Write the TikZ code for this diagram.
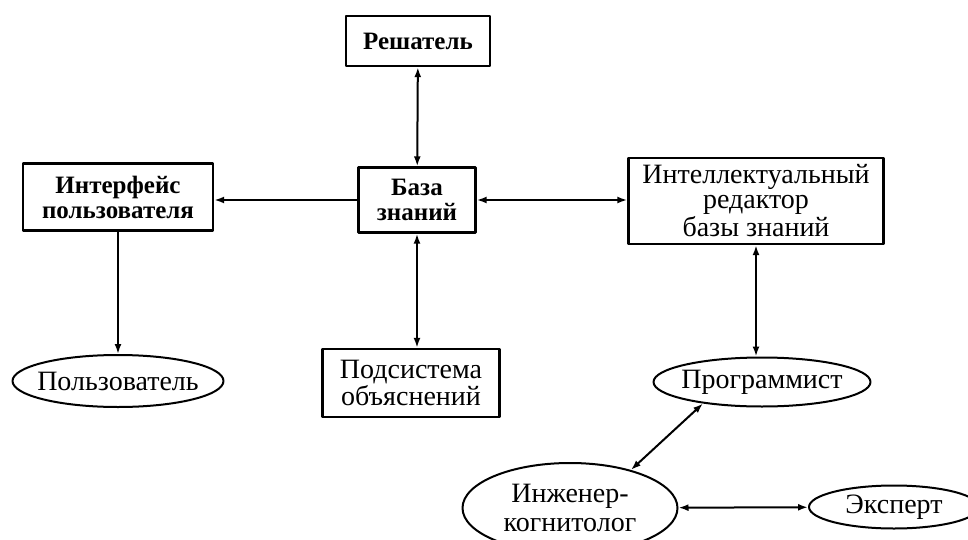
\documentclass[tikz,border=0pt]{standalone}
\usepackage{fontspec}
\setmainfont{Liberation Serif}
\usetikzlibrary{arrows.meta,shapes.geometric}

\begin{document}
\begin{tikzpicture}[x=0.5pt,y=-0.5pt,line cap=round,line join=round,
  txt/.style={font=\fontsize{14}{12.5}\selectfont},
  boldtxt/.style={font=\fontsize{12.5}{12.5}\selectfont\bfseries},
  box/.style={draw,line width=1.2pt,rectangle,inner sep=0pt,align=center,txt},
  oval/.style={draw,line width=1pt,ellipse,inner xsep=-30pt,inner ysep=-8pt,align=center,txt},
  link/.style={{Latex[length=5pt,width=3.5pt]}-{Latex[length=5pt,width=3.5pt]},line width=1pt},
  tolink/.style={-{Latex[length=5pt,width=3.5pt]},line width=1pt}]
  \useasboundingbox (0,0) rectangle (968,540);
  \clip (0,0) rectangle (968,540);
  % blocks of the system
  \node[box,boldtxt,minimum width=72pt,minimum height=25pt] (solver) at (418,41) {Решатель};
  \node[box,boldtxt,minimum width=95pt,minimum height=33.5pt] (iface) at (118,197) {Интерфейс\\пользователя};
  \node[box,boldtxt,minimum width=58.5pt,minimum height=32.5pt] (base) at (417,200) {База\\знаний};
  \node[box,minimum width=127.5pt,minimum height=43pt] (editor) at (756,201) {Интеллектуальный\\редактор\\базы знаний};
  \node[box,font=\fontsize{14}{11.5}\selectfont,minimum width=88.5pt,minimum height=34pt] (expl) at (411,383) {Подсистема\\объяснений};
  % people
  \node[oval,minimum width=105.5pt,minimum height=26pt] (user) at (118,381) {Пользователь};
  \node[oval,minimum width=108.5pt,minimum height=24.5pt] (prog) at (762,382) {Программист};
  \node[oval,font=\fontsize{14}{14.5}\selectfont,minimum width=107.5pt,minimum height=45pt] (eng) at (570,508) {Инженер-\\когнитолог};
  \node[oval,minimum width=85pt,minimum height=21.5pt] (expert) at (894,507) {Эксперт};
  % links
  \draw[link] (solver) -- (base);
  \draw[tolink] (base.west) -- (base.west -| iface.east);
  \draw[link] (base.east) -- (base.east -| editor.west);
  \draw[tolink] (iface) -- (user);
  \draw[link] (base.south) -- (base.south |- expl.north);
  \draw[link] (editor.south) -- (editor.south |- prog.north);
  \draw[link] (prog.200) -- (eng.32);
  \draw[link] (eng) -- (expert);
\end{tikzpicture}
\end{document}
